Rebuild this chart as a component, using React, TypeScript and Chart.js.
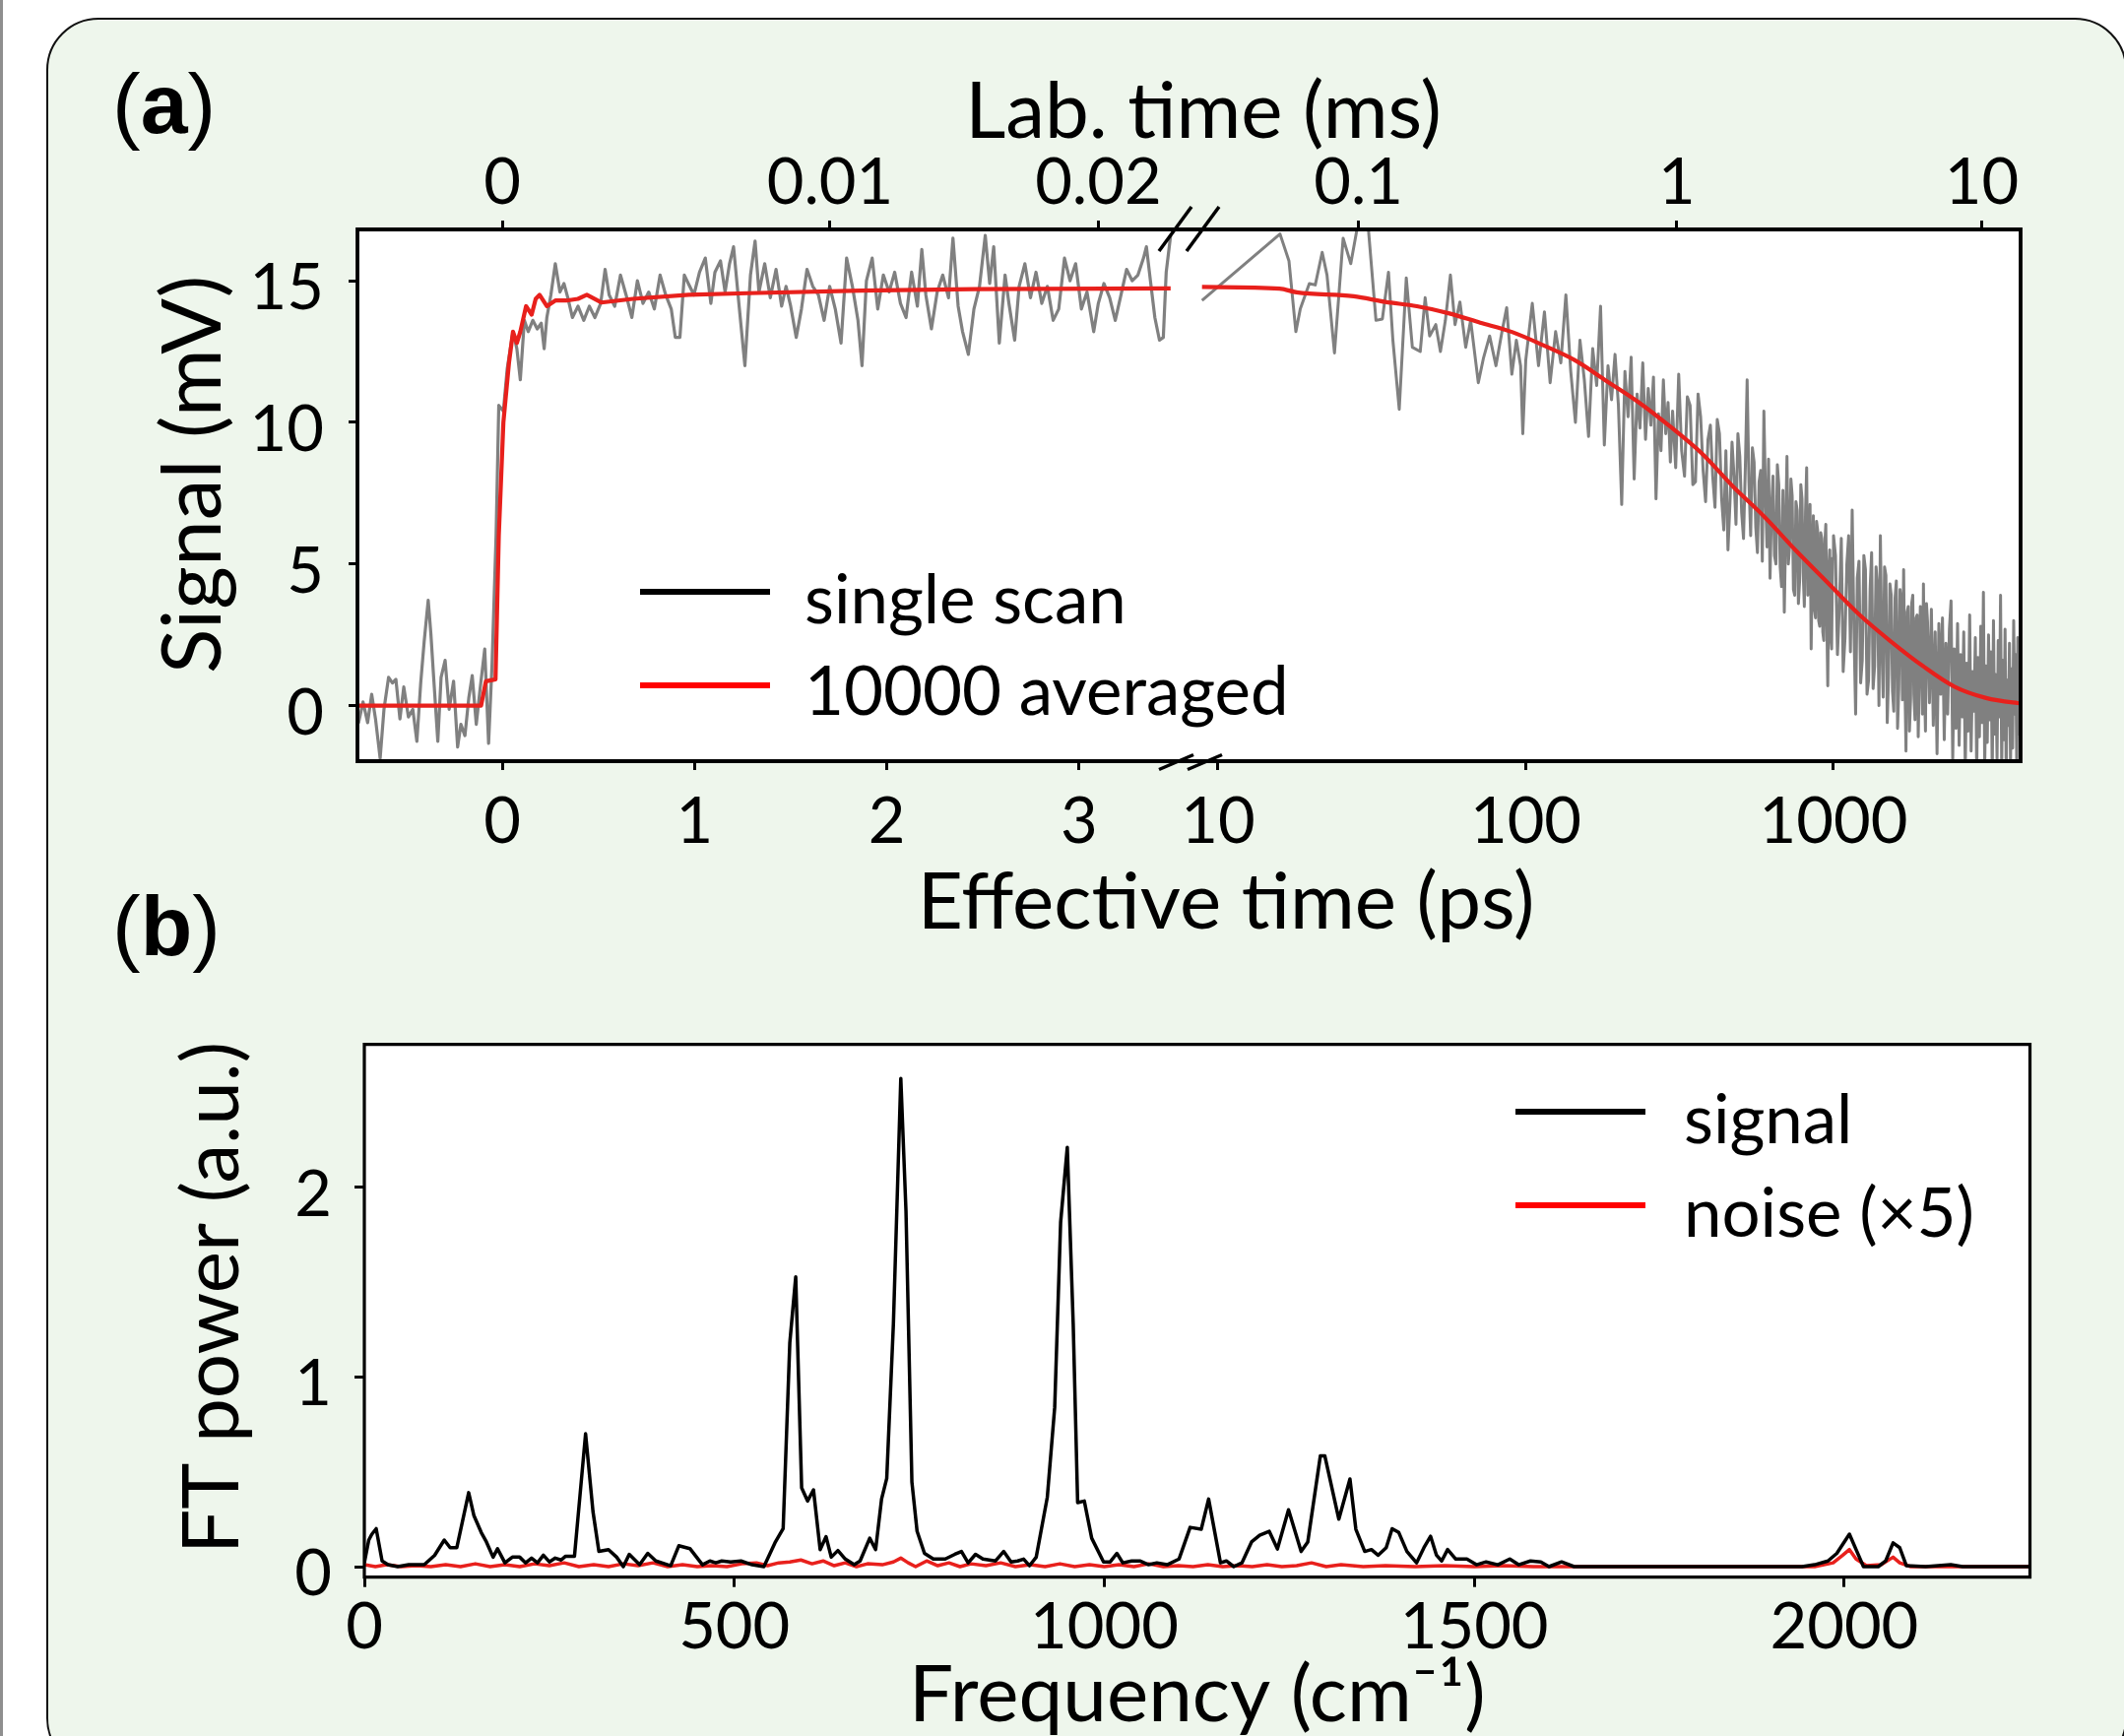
import React, { useEffect, useRef } from 'react';
import { Chart, registerables } from 'chart.js';

Chart.register(...registerables);

const W = 2157;
const H = 1763;

// ---------------- axis tick data ----------------
const effLinTicks = [0, 1, 2, 3];
const effLogTicks = [10, 100, 1000];
const labLinPos = [0, 1.705, 3.1];
const labLinText = ['0', '0.01', '0.02'];
const labLogPos = [28.6, 309.8, 3031];
const labLogText = ['0.1', '1', '10'];
const signalTicks = [0, 5, 10, 15];
const freqTicks = [0, 500, 1000, 1500, 2000];
const powerTicks = [0, 1, 2];

// ---------------- panel (a): single scan, linear part (ps) ----------------
const scanEarlyT = [
  -0.76, -0.747, -0.724, -0.7, -0.679, -0.659, -0.635, -0.615, -0.591, -0.571,
  -0.553, -0.532, -0.512, -0.488, -0.465, -0.444, -0.424, -0.406, -0.385, -0.371,
  -0.356, -0.335, -0.318, -0.297, -0.276, -0.253, -0.232, -0.215, -0.194, -0.174,
  -0.156, -0.135, -0.115, -0.091, -0.071, -0.053, -0.032, -0.018, 0.006, 0.026,
  0.056, 0.076, 0.094, 0.115, 0.135, 0.159, 0.182, 0.203, 0.218, 0.232,
  0.253, 0.276, 0.3, 0.321, 0.341, 0.365, 0.394, 0.424, 0.453, 0.482,
  0.512, 0.535, 0.556, 0.585, 0.615, 0.644, 0.674, 0.703, 0.732, 0.762,
  0.791, 0.821, 0.85, 0.879, 0.9, 0.924, 0.947, 0.968, 0.997, 1.026,
  1.056, 1.085, 1.106, 1.135, 1.159, 1.182, 1.203, 1.232, 1.262, 1.291,
  1.315, 1.335, 1.365, 1.394, 1.424, 1.453, 1.476, 1.5, 1.529, 1.556,
  1.585, 1.615, 1.644, 1.674, 1.703, 1.732, 1.762, 1.791, 1.821, 1.85,
  1.871, 1.894, 1.924, 1.953, 1.982, 2.012, 2.041, 2.071, 2.1, 2.129,
  2.159, 2.182, 2.203, 2.232, 2.262, 2.291, 2.321, 2.344, 2.371, 2.394,
  2.424, 2.453, 2.482, 2.512, 2.535, 2.556, 2.585, 2.615, 2.635, 2.665,
  2.688, 2.718, 2.747, 2.776, 2.806, 2.835, 2.865, 2.894, 2.924, 2.953,
  2.982, 3.012, 3.041, 3.076, 3.1, 3.129, 3.159, 3.188, 3.218, 3.247,
  3.276, 3.306, 3.335, 3.35, 3.371, 3.394, 3.418, 3.438, 3.453, 3.476,
];
const scanEarlyV = [
  0.1, -0.6, 0.13, -0.6, 0.4, -0.47, -1.86, -0.13, 1.0, 0.8,
  0.93, -0.47, 0.66, -0.4, -0.13, -1.26, 0.8, 2.26, 3.72, 2.53,
  0.93, -1.26, 1.0, 1.6, -0.13, 0.86, -1.46, -0.66, -1.06, 0.27,
  1.06, -0.66, 0.6, 2.0, -1.33, 1.46, 6.0, 10.6, 10.4, 11.9,
  13.2, 12.6, 11.5, 13.6, 13.2, 13.6, 13.3, 13.5, 12.6, 13.7,
  14.5, 15.6, 14.6, 14.9, 14.4, 13.7, 14.1, 13.6, 14.1, 13.7,
  14.2, 15.4, 14.5, 14.1, 15.2, 14.5, 13.7, 15.0, 14.2, 14.6,
  14.0, 15.2, 14.5, 14.0, 13.0, 13.0, 15.2, 14.9, 14.5, 15.3,
  15.8, 14.2, 15.3, 15.7, 14.6, 15.6, 16.2, 14.1, 12.0, 15.2,
  16.4, 14.6, 15.6, 14.4, 15.4, 14.1, 14.8, 14.1, 13.0, 14.0,
  15.4, 14.8, 14.5, 13.6, 14.8, 14.0, 12.8, 15.8, 14.8, 13.6,
  12.0, 15.0, 15.8, 14.0, 15.2, 14.6, 15.3, 14.2, 13.7, 15.3,
  14.1, 16.1, 14.5, 13.3, 14.6, 15.2, 14.4, 16.5, 14.1, 13.2,
  12.4, 14.0, 14.8, 16.6, 14.9, 16.2, 12.8, 15.2, 14.2, 12.9,
  14.8, 15.6, 14.4, 15.3, 14.2, 14.8, 13.6, 14.0, 15.8, 15.0,
  15.6, 14.0, 14.6, 13.2, 14.2, 14.9, 14.4, 13.6, 14.5, 15.4,
  15.0, 15.2, 15.8, 16.2, 15.0, 13.7, 12.9, 13.0, 15.3, 16.6,
];

// ---------------- panel (a): single scan, log part (ps) ----------------
const scanLateT = [
  8.87, 15.9, 17.0, 17.9, 18.5, 19.8, 20.7, 21.8, 22.6, 23.9,
  25.5, 27.0, 28.7, 30.6, 32.6, 34.2, 35.8, 37.0, 38.8, 40.9,
  42.8, 45.4, 47.1, 48.7, 51.0, 52.8, 54.8, 56.9, 58.9, 61.1,
  63.8, 66.2, 70.1, 72.8, 76.3, 80.0, 83.7, 86.7, 90.1, 93.2,
  96.2, 97.8, 100, 105, 110, 115, 120, 125, 130, 135,
  140, 145, 150, 155, 160, 165, 170, 175, 180, 185,
  190, 195, 200, 205, 210, 215, 220, 225, 230, 235,
  240, 245, 250, 255, 260, 265, 270, 275, 280, 285,
  290, 295, 300,
  307, 314, 321, 328, 335, 342, 349, 356, 363, 370,
  377, 384, 391, 398, 405, 412, 419, 426, 433, 440,
  447, 454, 461, 468, 475, 482, 489, 496, 503, 510,
  517, 524, 531, 538, 545, 552, 559, 566, 573, 580,
  587, 594, 601, 608, 615, 622, 629, 636, 643, 650,
  657, 664, 671, 678, 685, 692, 699, 706, 713, 720,
  727, 734, 741, 748, 755, 762, 769, 776, 783, 790,
  797, 804, 811, 818, 825, 832, 839, 846, 853, 860,
  867, 874, 881, 888, 895, 902, 909, 916, 923, 930,
  937, 944, 951, 958, 965, 972, 979, 986, 993, 1000,
  1015, 1030, 1045, 1060, 1075, 1090, 1105, 1120, 1135, 1150,
  1165, 1180, 1195, 1210, 1225, 1240, 1255, 1270, 1285, 1300,
  1315, 1330, 1345, 1360, 1375, 1390, 1405, 1420, 1435, 1450,
  1465, 1480, 1495, 1510, 1525, 1540, 1555, 1570, 1585, 1600,
  1615, 1630, 1645, 1660, 1675, 1690, 1705, 1720, 1735, 1750,
  1765, 1780, 1795, 1810, 1825, 1840, 1855, 1870, 1885, 1900,
  1915, 1930, 1945, 1960, 1975, 1990, 2005, 2020,
  2050, 2080, 2110, 2140, 2170, 2200, 2230, 2260, 2290, 2320,
  2350, 2380, 2410, 2440, 2470, 2500, 2530, 2560, 2590, 2620,
  2650, 2680, 2710, 2740, 2770, 2800, 2830, 2860, 2890, 2920,
  2950, 2980, 3010, 3040, 3070, 3100, 3130, 3160, 3190, 3220,
  3250, 3280, 3310, 3340, 3370, 3400, 3430, 3460, 3490, 3520,
  3550, 3580, 3610, 3640, 3670, 3700, 3730, 3760, 3790, 3820,
  3850, 3880, 3910, 3940, 3970, 4000, 4030, 4060,
];
const scanLateV = [
  14.3, 16.65, 15.7, 13.2, 14.0, 14.9, 14.85, 16.0, 15.2, 12.45,
  16.5, 15.6, 17.2, 17.2, 13.6, 13.65, 15.3, 12.9, 10.46, 15.1,
  12.65, 12.5, 14.4, 13.05, 13.45, 12.5, 13.6, 15.2, 13.45, 14.25,
  12.65, 13.6, 11.4, 12.25, 13.05, 12.0, 13.2, 14.05, 11.7, 12.9,
  12.0, 9.6, 12.2, 14.2, 12.0, 13.9, 11.4, 13.2, 12.1, 14.5,
  11.8, 10.0, 12.9, 11.5, 9.5, 12.6, 11.3, 14.1, 9.2, 12.0,
  10.8, 12.4, 10.6, 7.1, 11.8, 10.2, 12.3, 8.0, 11.0, 9.8,
  12.1, 9.4, 11.2, 9.9, 11.6, 7.3, 10.3, 9.0, 11.5, 9.6,
  10.7, 8.6, 10.4,
  8.4, 11.7, 9.0, 8.1, 10.9, 10.6, 7.8, 7.9, 11.0, 10.2,
  8.3, 7.2, 9.4, 9.9, 8.1, 7.0, 10.1, 9.6, 7.3, 6.2,
  9.0, 5.5, 7.2, 9.3, 8.1, 6.4, 9.6, 8.8, 6.8, 5.9,
  8.4, 11.5, 7.9, 6.0, 9.1, 8.6, 6.3, 5.4, 7.9, 8.3,
  5.1, 10.4, 7.5, 5.6, 8.7, 4.5, 7.0, 8.1, 5.3, 5.0,
  8.5, 7.8, 4.9, 4.2, 7.6, 3.3, 6.2, 8.8, 5.0, 5.6,
  8.0, 7.4, 4.1, 3.9, 7.2, 6.9, 3.6, 4.4, 7.8, 7.3,
  4.7, 3.5, 6.8, 8.4, 3.9, 4.6, 7.1, 2.0, 5.0, 6.7,
  3.4, 3.1, 6.5, 6.2, 3.0, 2.8, 6.1, 5.9, 2.6, 2.3,
  5.7, 6.4, 3.2, 0.7, 4.8, 5.5, 2.4, 2.0, 5.2, 6.0,
  5.3, 1.8, 3.5, 5.9, 1.2, 2.4, 5.0, 6.0, 1.9, 6.9,
  2.8, -0.3, 4.5, 5.1, 0.8, 1.6, 5.3, 4.8, 0.4, 0.9,
  4.1, 5.4, 0.6, 1.4, 4.9, 4.2, 0.0, 6.0, 2.2, 0.3,
  4.9, 4.6, -0.6, 1.1, 4.3, 3.9, 0.5, -0.2, 3.8, 4.4,
  -0.8, 0.6, 4.1, 3.7, 0.2, 4.8, 1.0, -1.6, 3.3, 3.5,
  -0.9, 0.2, 3.6, 3.9, 0.4, -0.5, 3.1, 3.2, -1.1, 0.9,
  3.5, 2.8, -0.3, 4.3, 0.7, -0.9, 3.6, 3.0,
  0.1, 3.4, -0.7, 2.6, -1.7, 2.9, 0.4, 3.1, -1.2, 2.2,
  -0.3, 2.7, 3.7, -1.9, 2.0, -0.8, 2.9, -1.4, 1.8, -0.4,
  2.6, -2.3, 1.5, -0.9, 3.2, -1.6, 1.2, -0.2, 2.4, -2.4,
  1.7, -1.1, 2.8, -0.6, 4.0, -2.2, 1.4, -1.3, 2.5, -0.5,
  1.9, -2.5, 3.0, -1.0, 1.1, -1.9, 2.3, -0.4, 3.9, -2.2,
  1.6, -1.2, 2.7, -2.4, 0.9, -0.7, 2.2, -2.1, 1.3, -1.5,
  3.0, -0.3, 1.8, -2.3, 2.4, -1.0, 1.5, -1.8,
];

// ---------------- panel (a): 10000 averaged ----------------
const avgEarlyT = [-0.76, -0.11, -0.085, -0.035, -0.018, 0.006, 0.035, 0.056, 0.076, 0.094,
  0.124, 0.153, 0.174, 0.194, 0.232, 0.276, 0.335, 0.394, 0.44, 0.515,
  0.68, 0.97, 1.276, 1.865, 2.453, 3.476];
const avgEarlyV = [0, 0, 0.86, 0.93, 6.0, 10.0, 12.1, 13.2, 12.8, 13.2,
  14.1, 13.8, 14.36, 14.5, 14.1, 14.3, 14.3, 14.36, 14.5, 14.23,
  14.36, 14.5, 14.56, 14.65, 14.7, 14.73];
const avgLateT = [8.87, 15.85, 18.0, 27.6, 35, 44.3, 56.1, 71.1, 90.2, 114,
  144.5, 183, 232, 294, 372, 472, 597, 757, 959, 1216,
  1538, 1950, 2472, 3133, 3963, 4055];
const avgLateV = [14.78, 14.72, 14.59, 14.45, 14.25, 14.1, 13.85, 13.52, 13.19, 12.72,
  12.19, 11.46, 10.72, 9.86, 8.92, 7.73, 6.66, 5.46, 4.33, 3.2,
  2.26, 1.4, 0.67, 0.27, 0.09, 0.08];

// ---------------- panel (b): FT power ----------------
const freq = [
  0, 6, 10, 16, 24, 32, 45, 60, 81, 95,
  108, 116, 125, 141, 148, 158, 165, 174, 180, 190,
  200, 210, 218, 226, 234, 242, 250, 258, 266, 272,
  284, 299, 309, 317, 330, 341, 350, 358, 372, 383,
  394, 414, 425, 440, 457, 467, 475, 483, 495, 509,
  524, 540, 555, 566, 575, 583, 591, 599, 607, 616,
  624, 631, 640, 650, 662, 670, 683, 691, 699, 706,
  715, 725, 732, 740, 747, 757, 769, 785, 798, 807,
  816, 826, 836, 853, 864, 874, 883, 891, 899, 908,
  923, 933, 941, 950, 958, 964, 973, 983, 999, 1008,
  1017, 1025, 1037, 1048, 1060, 1071, 1085, 1101, 1116, 1131,
  1141, 1157, 1165, 1175, 1186, 1199, 1210, 1223, 1234, 1249,
  1266, 1275, 1292, 1298, 1317, 1332, 1340, 1352, 1361, 1370,
  1381, 1389, 1398, 1409, 1422, 1432, 1441, 1449, 1456, 1464,
  1475, 1490, 1503, 1516, 1532, 1548, 1560, 1576, 1590, 1601,
  1618, 1635, 1700, 1800, 1900, 1943, 1960, 1978, 1990, 2007,
  2016, 2026, 2046, 2056, 2066, 2075, 2084, 2110, 2144, 2160,
  2250,
];
const signalPower = [
  0.02, 0.14, 0.17, 0.2, 0.03, 0.01, 0.0, 0.01, 0.01, 0.06,
  0.14, 0.1, 0.1, 0.39, 0.27, 0.18, 0.13, 0.05, 0.094, 0.02,
  0.05, 0.05, 0.02, 0.045, 0.02, 0.06, 0.025, 0.045, 0.035, 0.055,
  0.055, 0.7, 0.29, 0.08, 0.09, 0.05, 0.0, 0.065, 0.01, 0.07,
  0.03, 0.005, 0.11, 0.095, 0.01, 0.03, 0.02, 0.03, 0.025, 0.03,
  0.01, 0.0, 0.126, 0.2, 1.18, 1.527, 0.415, 0.346, 0.405, 0.09,
  0.158, 0.05, 0.085, 0.04, 0.01, 0.03, 0.15, 0.09, 0.356, 0.465,
  1.28, 2.573, 1.875, 0.446, 0.187, 0.07, 0.04, 0.04, 0.065, 0.08,
  0.02, 0.065, 0.04, 0.03, 0.08, 0.025, 0.03, 0.04, 0.005, 0.05,
  0.366, 0.84, 1.815, 2.21, 1.28, 0.337, 0.346, 0.15, 0.025, 0.025,
  0.07, 0.02, 0.03, 0.03, 0.01, 0.02, 0.01, 0.04, 0.207, 0.197,
  0.356, 0.02, 0.03, 0.0, 0.02, 0.13, 0.165, 0.186, 0.093, 0.3,
  0.08, 0.13, 0.584, 0.584, 0.25, 0.462, 0.197, 0.08, 0.09, 0.06,
  0.1, 0.2, 0.18, 0.08, 0.02, 0.1, 0.16, 0.06, 0.03, 0.09,
  0.04, 0.04, 0.01, 0.025, 0.01, 0.04, 0.01, 0.03, 0.025, 0.0,
  0.025, 0.0, 0.0, 0.0, 0.0, 0.0, 0.01, 0.03, 0.07, 0.171,
  0.09, 0.0, 0.0, 0.03, 0.125, 0.1, 0.005, 0.0, 0.01, 0.0,
  0.0,
];
const noiseFreq = [
  0, 15, 30, 50, 70, 90, 110, 130, 150, 170,
  190, 210, 230, 250, 270, 290, 310, 330, 350, 370,
  390, 410, 430, 450, 470, 490, 510, 530, 545, 560,
  575, 590, 605, 620, 635, 650, 665, 680, 700, 715,
  725, 735, 745, 760, 775, 790, 805, 820, 840, 860,
  880, 900, 920, 940, 960, 980, 1000, 1020, 1040, 1060,
  1080, 1100, 1120, 1140, 1160, 1180, 1200, 1220, 1240, 1260,
  1280, 1300, 1320, 1350, 1380, 1420, 1460, 1500, 1540, 1580,
  1640, 1700, 1800, 1900, 1960, 1985, 1998, 2007, 2016, 2030,
  2050, 2066, 2075, 2090, 2140, 2200, 2250,
];
const noisePower = [
  0.01, 0.0, 0.01, 0.0, 0.005, 0.0, 0.01, 0.0, 0.015, 0.0,
  0.01, 0.0, 0.015, 0.005, 0.02, 0.0, 0.01, 0.0, 0.015, 0.005,
  0.02, 0.0, 0.01, 0.0, 0.005, 0.0, 0.015, 0.02, 0.005, 0.02,
  0.025, 0.035, 0.015, 0.03, 0.005, 0.02, 0.0, 0.015, 0.01, 0.025,
  0.045, 0.02, 0.0, 0.03, 0.005, 0.02, 0.0, 0.015, 0.005, 0.02,
  0.0, 0.01, 0.0, 0.015, 0.0, 0.01, 0.0, 0.01, 0.0, 0.015,
  0.0, 0.005, 0.0, 0.01, 0.0, 0.005, 0.0, 0.01, 0.0, 0.005,
  0.02, 0.0, 0.01, 0.0, 0.005, 0.0, 0.005, 0.0, 0.005, 0.0,
  0.0, 0.0, 0.0, 0.0, 0.0, 0.02, 0.06, 0.09, 0.04, 0.005,
  0.01, 0.05, 0.02, 0.0, 0.0, 0.0, 0.0,
];

// ---------------- legend text ----------------
const legendA = ['single scan', '10000 averaged'];
const legendB = ['signal', 'noise (×5)'];

// ---------------- styling ----------------
const GREY = '#808080';
const RED = '#e8201c';
const LEG_RED = '#ff0000';
const TICK_FONT = { family: 'Lato', size: 65, lineHeight: 1 };
const TITLE_FONT = { family: 'Lato', size: 80, lineHeight: 1 };
const LEGEND_FONT = '69px Lato';
const TITLE_CSS = '80px Lato';

const pts = (xs: number[], ys: number[]) => xs.map((x, i) => ({ x, y: ys[i] }));
const setTicks = (vals: number[]) => (s: any) => {
  s.ticks = vals.map((v) => ({ value: v }));
};

const gridA = {
  display: true, drawOnChartArea: false, drawTicks: true, tickLength: 9,
  tickWidth: 3, lineWidth: 3, color: '#000', tickColor: '#000',
};
const gridB = { ...gridA, tickLength: 10 };

// ---------------- plugins ----------------
const bgPlugin = {
  id: 'plotBg',
  beforeDraw(chart: any) {
    const { ctx, chartArea: a } = chart;
    ctx.save();
    ctx.fillStyle = '#ffffff';
    ctx.fillRect(a.left, a.top, a.right - a.left, a.bottom - a.top);
    ctx.restore();
  },
};

const spinesPlugin = (mode: 'left' | 'right' | 'box', width: number) => ({
  id: 'spines',
  afterDatasetsDraw(chart: any) {
    const { ctx, chartArea: a } = chart;
    ctx.save();
    ctx.strokeStyle = '#000';
    ctx.lineWidth = width;
    ctx.lineJoin = 'miter';
    ctx.beginPath();
    if (mode === 'left') {
      ctx.moveTo(a.right, a.top);
      ctx.lineTo(a.left, a.top);
      ctx.lineTo(a.left, a.bottom);
      ctx.lineTo(a.right, a.bottom);
    } else if (mode === 'right') {
      ctx.moveTo(a.left, a.top);
      ctx.lineTo(a.right, a.top);
      ctx.lineTo(a.right, a.bottom);
      ctx.lineTo(a.left, a.bottom);
    } else {
      ctx.rect(a.left, a.top, a.right - a.left, a.bottom - a.top);
    }
    ctx.stroke();
    ctx.restore();
  },
});

const breaksPlugin = (segs: number[][]) => ({
  id: 'breaks',
  afterDraw(chart: any) {
    const { ctx } = chart;
    ctx.save();
    ctx.strokeStyle = '#000';
    ctx.lineWidth = 3.5;
    segs.forEach(([x1, y1, x2, y2]) => {
      ctx.beginPath();
      ctx.moveTo(x1, y1);
      ctx.lineTo(x2, y2);
      ctx.stroke();
    });
    ctx.restore();
  },
});

type Run = { t: string; f: string };
type TextItem = { x: number; y: number; align: 'left' | 'center'; runs: Run[]; rotate?: boolean };
const textPlugin = (items: TextItem[]) => ({
  id: 'pageText',
  afterDraw(chart: any) {
    const { ctx } = chart;
    items.forEach((it) => {
      ctx.save();
      ctx.fillStyle = '#000';
      ctx.textAlign = 'left';
      ctx.textBaseline = it.rotate ? 'middle' : 'alphabetic';
      ctx.translate(it.x, it.y);
      if (it.rotate) ctx.rotate(-Math.PI / 2);
      let total = 0;
      it.runs.forEach((r) => { ctx.font = r.f; total += ctx.measureText(r.t).width; });
      let x = it.align === 'center' ? -total / 2 : 0;
      it.runs.forEach((r) => {
        ctx.font = r.f;
        ctx.fillText(r.t, x, 0);
        x += ctx.measureText(r.t).width;
      });
      ctx.restore();
    });
  },
});

type LegendCfg = { x1: number; x2: number; tx: number; lw: number; font: string;
  rows: { y: number; base: number; text: string; color: string }[] };
const legendPlugin = (cfg: LegendCfg) => ({
  id: 'inlineLegend',
  afterDraw(chart: any) {
    const { ctx } = chart;
    ctx.save();
    cfg.rows.forEach((r) => {
      ctx.strokeStyle = r.color;
      ctx.lineWidth = cfg.lw;
      ctx.lineCap = 'butt';
      ctx.beginPath();
      ctx.moveTo(cfg.x1, r.y);
      ctx.lineTo(cfg.x2, r.y);
      ctx.stroke();
      ctx.fillStyle = '#000';
      ctx.font = cfg.font;
      ctx.textBaseline = 'alphabetic';
      ctx.textAlign = 'left';
      ctx.fillText(r.text, cfg.tx, r.base);
    });
    ctx.restore();
  },
});

// ---------------- geometry of the plot areas (page pixels) ----------------
const A_TOP = 233;
const A_BOTTOM = 773;
const A_LEFT = 363;
const A_SPLIT = 1206;
const A_RIGHT = 2052;
const B_LEFT = 370;
const B_TOP = 1060.7;
const B_RIGHT = 2061.5;
const B_BOTTOM = 1601.7;

const baseOptions = {
  responsive: false,
  animation: false as const,
  devicePixelRatio: 1,
  events: [] as any[],
  plugins: { legend: { display: false }, tooltip: { enabled: false }, title: { display: false } },
};

export default function App() {
  const refA1 = useRef<HTMLCanvasElement>(null);
  const refA2 = useRef<HTMLCanvasElement>(null);
  const refB = useRef<HTMLCanvasElement>(null);

  useEffect(() => {
    let charts: Chart[] = [];
    let cancelled = false;
    Chart.defaults.font.family = 'Lato';
    Chart.defaults.color = '#000';

    const build = () => {
      if (cancelled || !refA1.current || !refA2.current || !refB.current) return;

      // ----- panel (a), linear part -----
      const cA1 = new Chart(refA1.current, {
        type: 'line',
        data: {
          datasets: [
            { label: legendA[0], data: pts(scanEarlyT, scanEarlyV), borderColor: GREY, borderWidth: 3.2, order: 2,
              pointRadius: 0, tension: 0, clip: 0, borderJoinStyle: 'round', xAxisID: 'x', yAxisID: 'y' },
            { label: legendA[1], data: pts(avgEarlyT, avgEarlyV), borderColor: RED, borderWidth: 4.2, order: 1,
              pointRadius: 0, tension: 0, clip: 0, borderJoinStyle: 'round', xAxisID: 'x', yAxisID: 'y' },
          ],
        },
        options: {
          ...baseOptions,
          layout: { autoPadding: false, padding: { left: 100, top: 100, right: W - A_SPLIT, bottom: H - 1000 } },
          scales: {
            x: {
              type: 'linear', position: 'bottom', min: -0.753, max: 3.564, bounds: 'data',
              afterBuildTicks: setTicks(effLinTicks),
              afterFit: (s: any) => { s.height = 1000 - A_BOTTOM; },
              ticks: { font: TICK_FONT, color: '#000', padding: 21, maxRotation: 0, autoSkip: false,
                callback: (v: any) => String(v) },
              grid: gridA, border: { display: false },
            },
            xTop: {
              type: 'linear', position: 'top', min: -0.753, max: 3.564, bounds: 'data',
              afterBuildTicks: setTicks(labLinPos),
              afterFit: (s: any) => { s.height = A_TOP - 100; },
              ticks: { font: TICK_FONT, color: '#000', padding: 5, maxRotation: 0, autoSkip: false,
                callback: (_v: any, i: number) => labLinText[i] },
              grid: gridA, border: { display: false },
            },
            y: {
              type: 'linear', position: 'left', min: -1.96, max: 16.81, bounds: 'data',
              afterBuildTicks: setTicks(signalTicks),
              afterFit: (s: any) => { s.width = A_LEFT - 100; },
              ticks: { font: TICK_FONT, color: '#000', padding: 25, labelOffset: 8,
                callback: (v: any) => String(v) },
              grid: gridA, border: { display: false },
            },
          },
        } as any,
        plugins: [
          bgPlugin,
          spinesPlugin('left', 3.8),
          textPlugin([
            { x: 114, y: 135, align: 'left', runs: [
              { t: '(', f: '86px "Liberation Sans"' },
              { t: 'a', f: 'bold 86px "Liberation Sans"' },
              { t: ')', f: '86px "Liberation Sans"' },
            ] },
            { x: 1222, y: 140, align: 'center', runs: [{ t: 'Lab. time (ms)', f: TITLE_CSS }] },
            { x: 1245, y: 943, align: 'center', runs: [{ t: 'Effective time (ps)', f: TITLE_CSS }] },
            { x: 197, y: 482, align: 'center', rotate: true, runs: [{ t: 'Signal (mV)', f: '84px Lato' }] },
          ]),
        ],
      });

      // ----- panel (a), logarithmic part -----
      const cA2 = new Chart(refA2.current, {
        type: 'line',
        data: {
          datasets: [
            { label: legendA[0], data: pts(scanLateT, scanLateV), borderColor: GREY, borderWidth: 3.0, order: 2,
              pointRadius: 0, tension: 0, clip: 0, borderJoinStyle: 'round', xAxisID: 'x', yAxisID: 'y' },
            { label: legendA[1], data: pts(avgLateT, avgLateV), borderColor: RED, borderWidth: 4.2, order: 1,
              pointRadius: 0, cubicInterpolationMode: 'monotone', clip: 0, xAxisID: 'x', yAxisID: 'y' },
          ],
        },
        options: {
          ...baseOptions,
          layout: { autoPadding: false, padding: { left: A_SPLIT, top: 100, right: W - A_RIGHT, bottom: H - 1000 } },
          scales: {
            x: {
              type: 'logarithmic', position: 'bottom', min: 7.96, max: 4055, bounds: 'data',
              afterBuildTicks: setTicks(effLogTicks),
              afterFit: (s: any) => { s.height = 1000 - A_BOTTOM; },
              ticks: { font: TICK_FONT, color: '#000', padding: 21, maxRotation: 0, autoSkip: false,
                callback: (v: any) => String(v) },
              grid: gridA, border: { display: false },
            },
            xTop: {
              type: 'logarithmic', position: 'top', min: 7.96, max: 4055, bounds: 'data',
              afterBuildTicks: setTicks(labLogPos),
              afterFit: (s: any) => { s.height = A_TOP - 100; },
              ticks: { font: TICK_FONT, color: '#000', padding: 5, maxRotation: 0, autoSkip: false,
                callback: (_v: any, i: number) => labLogText[i] },
              grid: gridA, border: { display: false },
            },
            y: { type: 'linear', display: false, min: -1.96, max: 16.81, bounds: 'data' },
          },
        } as any,
        plugins: [
          bgPlugin,
          spinesPlugin('right', 3.8),
          breaksPlugin([
            [1177, 255, 1210, 210],
            [1205, 255, 1238, 210],
            [1177, 781.5, 1212, 766.5],
            [1206, 781.5, 1241, 766.5],
          ]),
          legendPlugin({
            x1: 650, x2: 782, tx: 817, lw: 6, font: LEGEND_FONT,
            rows: [
              { y: 601, base: 632.5, text: legendA[0], color: '#000' },
              { y: 696, base: 726, text: legendA[1], color: LEG_RED },
            ],
          }),
        ],
      });

      // ----- panel (b) -----
      const cB = new Chart(refB.current, {
        type: 'line',
        data: {
          datasets: [
            { label: legendB[0], data: pts(freq, signalPower), borderColor: '#000', borderWidth: 3.5, order: 1,
              pointRadius: 0, tension: 0, clip: 0, borderJoinStyle: 'round', xAxisID: 'x', yAxisID: 'y' },
            { label: legendB[1], data: pts(noiseFreq, noisePower), borderColor: RED, borderWidth: 3.5, order: 2,
              pointRadius: 0, tension: 0, clip: 0, borderJoinStyle: 'round', xAxisID: 'x', yAxisID: 'y' },
          ],
        },
        options: {
          ...baseOptions,
          layout: { autoPadding: false, padding: { left: 100, top: B_TOP, right: W - B_RIGHT, bottom: 0 } },
          scales: {
            x: {
              type: 'linear', position: 'bottom', min: 0, max: 2251, bounds: 'data',
              afterBuildTicks: setTicks(freqTicks),
              afterFit: (s: any) => { s.height = H - B_BOTTOM; },
              ticks: { font: TICK_FONT, color: '#000', padding: 9, maxRotation: 0, autoSkip: false,
                callback: (v: any) => String(v) },
              title: { display: true, text: 'Frequency (cm⁻¹)', font: TITLE_FONT, color: '#000',
                padding: { top: 0, bottom: 1 } },
              grid: gridB, border: { display: false },
            },
            y: {
              type: 'linear', position: 'left', min: -0.0555, max: 2.752, bounds: 'data',
              afterBuildTicks: setTicks(powerTicks),
              afterFit: (s: any) => { s.width = B_LEFT - 100; },
              ticks: { font: TICK_FONT, color: '#000', padding: 23, labelOffset: 8,
                callback: (v: any) => String(v) },
              grid: gridB, border: { display: false },
            },
          },
        } as any,
        plugins: [
          bgPlugin,
          spinesPlugin('box', 3.2),
          legendPlugin({
            x1: 1539, x2: 1671, tx: 1710, lw: 6, font: LEGEND_FONT,
            rows: [
              { y: 1129, base: 1160.7, text: legendB[0], color: '#000' },
              { y: 1224, base: 1256, text: legendB[1], color: LEG_RED },
            ],
          }),
          textPlugin([
            { x: 114, y: 970, align: 'left', runs: [
              { t: '(', f: '86px "Liberation Sans"' },
              { t: 'b', f: 'bold 86px "Liberation Sans"' },
              { t: ')', f: '86px "Liberation Sans"' },
            ] },
            { x: 216, y: 1318, align: 'center', rotate: true, runs: [{ t: 'FT power (a.u.)', f: TITLE_CSS }] },
          ]),
        ],
      });

      charts = [cA1, cA2, cB];
    };

    const fontsReady = Promise.all([
      document.fonts.load('65px Lato'),
      document.fonts.load('86px "Liberation Sans"'),
      document.fonts.load('bold 86px "Liberation Sans"'),
    ]);
    fontsReady.then(build, build);

    return () => {
      cancelled = true;
      charts.forEach((c) => c.destroy());
      charts = [];
    };
  }, []);

  const canvasStyle: React.CSSProperties = { position: 'absolute', left: 0, top: 0, width: W, height: H };

  return (
    <div style={{ position: 'absolute', left: 0, top: 0, width: W, height: H, overflow: 'hidden', background: '#ffffff' }}>
      <div style={{ position: 'absolute', left: 0, top: 0, width: 3, height: H, background: '#8f8f8f' }} />
      <div
        style={{
          position: 'absolute', left: 47, top: 18, width: 2113, height: 1780, boxSizing: 'border-box',
          border: '2px solid #111', borderRadius: 53, background: '#eef6ec',
        }}
      />
      <canvas ref={refA1} width={W} height={H} style={canvasStyle} />
      <canvas ref={refA2} width={W} height={H} style={canvasStyle} />
      <canvas ref={refB} width={W} height={H} style={canvasStyle} />
    </div>
  );
}
